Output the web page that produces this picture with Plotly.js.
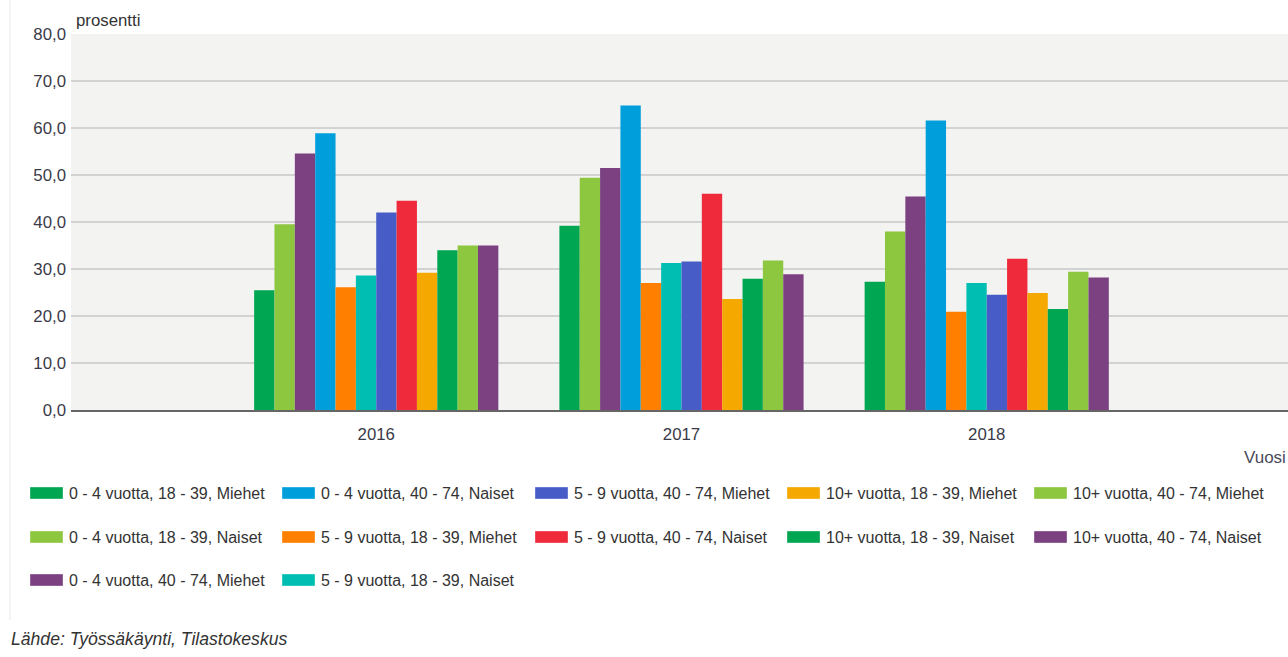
<!DOCTYPE html>
<html>
<head>
<meta charset="utf-8">
<script src="https://cdn.plot.ly/plotly-3.0.1.min.js"></script>
<style>html,body{margin:0;padding:0;background:#fff;overflow:hidden;}#chart{width:1288px;height:657px;}</style>
</head>
<body>
<div id="chart"></div>
<script>
var years = ['2016', '2017', '2018'];
var seriesNames = [
  '0 - 4 vuotta, 18 - 39, Miehet',
  '0 - 4 vuotta, 18 - 39, Naiset',
  '0 - 4 vuotta, 40 - 74, Miehet',
  '0 - 4 vuotta, 40 - 74, Naiset',
  '5 - 9 vuotta, 18 - 39, Miehet',
  '5 - 9 vuotta, 18 - 39, Naiset',
  '5 - 9 vuotta, 40 - 74, Miehet',
  '5 - 9 vuotta, 40 - 74, Naiset',
  '10+ vuotta, 18 - 39, Miehet',
  '10+ vuotta, 18 - 39, Naiset',
  '10+ vuotta, 40 - 74, Miehet',
  '10+ vuotta, 40 - 74, Naiset'
];
var seriesColors = ['#00a651', '#8dc63f', '#7b4180', '#009fdc', '#ff8000', '#00bfb2',
                    '#485cc7', '#ee2a3b', '#f5a800', '#00a651', '#8dc63f', '#7b4180'];
var v_04_1839_M = [25.5, 39.2, 27.3];
var v_04_1839_N = [39.5, 49.4, 38.0];
var v_04_4074_M = [54.6, 51.5, 45.4];
var v_04_4074_N = [58.9, 64.8, 61.6];
var v_59_1839_M = [26.1, 27.0, 20.9];
var v_59_1839_N = [28.6, 31.3, 27.0];
var v_59_4074_M = [42.0, 31.6, 24.5];
var v_59_4074_N = [44.5, 46.0, 32.2];
var v_10_1839_M = [29.2, 23.6, 24.9];
var v_10_1839_N = [34.0, 27.9, 21.5];
var v_10_4074_M = [35.0, 31.8, 29.4];
var v_10_4074_N = [35.0, 28.9, 28.2];
var seriesValues = [v_04_1839_M, v_04_1839_N, v_04_4074_M, v_04_4074_N,
                    v_59_1839_M, v_59_1839_N, v_59_4074_M, v_59_4074_N,
                    v_10_1839_M, v_10_1839_N, v_10_4074_M, v_10_4074_N];
var yTicks = [0, 10, 20, 30, 40, 50, 60, 70, 80];

var W = 1288, H = 657;
var mL = 71, mR = 0, mT = 34, mB = 247;
var pw = W - mL - mR, ph = H - mT - mB;
function px2x(px) { return (px - mL) / pw; }
function py2y(py) { return (H - mB - py) / ph; }

var traces = seriesNames.map(function (n, i) {
  return {
    type: 'bar', name: n, x: years, y: seriesValues[i],
    marker: {color: seriesColors[i], line: {width: 0}},
    showlegend: false, hoverinfo: 'x+y+name'
  };
});

// manual legend layout (column, row) for each series, as in the original
var legendCol = [0, 0, 0, 1, 1, 1, 2, 2, 3, 3, 4, 4];
var legendRow = [0, 1, 2, 0, 1, 2, 0, 1, 0, 1, 0, 1];
var colX = [30, 282, 535, 787, 1034];
var rowY = [493, 537, 580];
var shapes = [], annotations = [];
seriesNames.forEach(function (n, i) {
  var sx = colX[legendCol[i]], sy = rowY[legendRow[i]];
  shapes.push({type: 'rect', xref: 'paper', yref: 'paper',
    x0: px2x(sx), x1: px2x(sx + 33), y0: py2y(sy - 6), y1: py2y(sy + 6),
    fillcolor: seriesColors[i], line: {width: 0.6, color: 'rgba(255,255,255,0.6)'}});
  annotations.push({xref: 'paper', yref: 'paper', x: px2x(sx + 37), y: py2y(sy),
    xanchor: 'left', yanchor: 'middle', showarrow: false, text: n,
    font: {family: 'Liberation Sans, Arial, sans-serif', size: 16, color: '#333'}});
});
// frame line at left
shapes.push({type: 'line', xref: 'paper', yref: 'paper', x0: px2x(10), x1: px2x(10),
  y0: py2y(0), y1: py2y(620), line: {color: '#e8e8e8', width: 1}});

annotations.push({xref: 'paper', yref: 'paper', x: px2x(74), y: py2y(20),
  xanchor: 'left', yanchor: 'middle', showarrow: false, text: 'prosentti',
  font: {family: 'Liberation Sans, Arial, sans-serif', size: 16.8, color: '#333'}});
annotations.push({xref: 'paper', yref: 'paper', x: px2x(1288), y: py2y(457),
  xanchor: 'right', yanchor: 'middle', showarrow: false, text: 'Vuosi',
  font: {family: 'Liberation Sans, Arial, sans-serif', size: 17, color: '#4a4a5a'}});
annotations.push({xref: 'paper', yref: 'paper', x: px2x(9), y: py2y(639),
  xanchor: 'left', yanchor: 'middle', showarrow: false,
  text: '<i>Lähde: Työssäkäynti, Tilastokeskus</i>',
  font: {family: 'Liberation Sans, Arial, sans-serif', size: 17.6, color: '#333'}});

var layout = {
  width: W, height: H,
  margin: {l: mL, r: mR, t: mT, b: mB, pad: 0},
  paper_bgcolor: '#ffffff', plot_bgcolor: '#f3f3f1',
  separators: ', ',
  barmode: 'group', bargap: 0.2, bargroupgap: 0,
  showlegend: false,
  font: {family: 'Liberation Sans, Arial, sans-serif', color: '#333'},
  xaxis: {type: 'category', range: [-1, 2.987], showgrid: false, zeroline: false,
    showline: true, linecolor: '#666', linewidth: 2, ticks: '',
    tickfont: {size: 16.8, color: '#3a3a48'}, ticklabelstandoff: 8, fixedrange: true},
  yaxis: {range: [0, 80], tickvals: yTicks, tickformat: '.1f',
    showgrid: true, gridcolor: '#d2d2d2', gridwidth: 2, zeroline: false,
    showline: false, ticks: '', tickfont: {size: 16.8, color: '#3a3a48'},
    ticklabelstandoff: 4, fixedrange: true},
  shapes: shapes, annotations: annotations
};
Plotly.newPlot('chart', traces, layout, {displayModeBar: false, staticPlot: true});
</script>
</body>
</html>
